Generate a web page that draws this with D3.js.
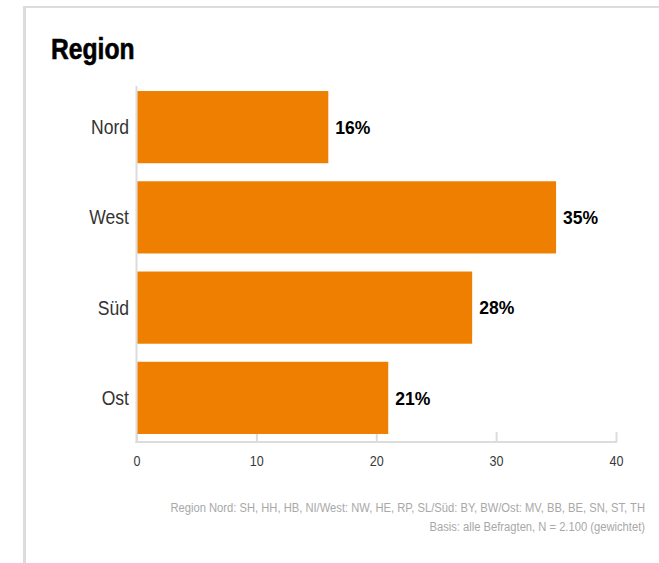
<!DOCTYPE html>
<html>
<head>
<meta charset="utf-8">
<script src="https://cdn.jsdelivr.net/npm/d3@7"></script>
<style>
  html, body { margin: 0; padding: 0; background: #fff; }
  svg { display: block; }
</style>
</head>
<body>
<svg id="chart" width="659" height="563"></svg>
<script>
// Regional distribution of respondents (share in percent)
const categories = ["Nord", "West", "Süd", "Ost"];
const shares = [16, 35, 28, 21];
const xTicks = [0, 10, 20, 30, 40];
const titleText = "Region";
const noteLines = [
  "Region Nord: SH, HH, HB, NI/West: NW, HE, RP, SL/Süd: BY, BW/Ost: MV, BB, BE, SN, ST, TH",
  "Basis: alle Befragten, N = 2.100 (gewichtet)"
];

const W = 659, H = 563;
const font = "'Liberation Sans', Arial, sans-serif";
const orange = "#ef7f00";
const rule = "#dcdcdc";

const svg = d3.select("#chart");

// Narrow text: position with a translate, then squeeze horizontally
function narrow(sel, sx, fx, fy) {
  sel.attr("transform", (d, i) => `translate(${fx(d, i)},${fy(d, i)}) scale(${sx},1)`);
}

// Card frame: top and left rules
svg.append("rect").attr("x", 23).attr("y", 6).attr("width", W - 23).attr("height", 2).attr("fill", rule);
svg.append("rect").attr("x", 23).attr("y", 6).attr("width", 3).attr("height", H - 6).attr("fill", rule);

// Title
svg.append("text")
  .datum(titleText)
  .attr("font-family", font)
  .attr("font-weight", "bold")
  .attr("font-size", 29)
  .attr("fill", "#000")
  .attr("stroke", "#000")
  .attr("stroke-width", 0.6)
  .text(d => d)
  .call(narrow, 0.85, () => 51, () => 59);

const x = d3.scaleLinear().domain([0, 40]).range([136.5, 616]);
const y = d3.scaleBand().domain(categories).range([82, 443]).paddingInner(0.2).paddingOuter(0.1);

// Bottom axis with upward ticks
const xAxis = svg.append("g")
  .attr("transform", "translate(0,442)")
  .call(d3.axisBottom(x).tickValues(xTicks).tickSize(-10).tickPadding(0).tickFormat(d3.format("d")));
xAxis.select(".domain").attr("stroke", rule).attr("stroke-width", 2).attr("d", `M${x(0) - 1},0H${x(40) + 1}`);
xAxis.selectAll(".tick line").attr("stroke", rule).attr("stroke-width", 2);
xAxis.selectAll(".tick text")
  .attr("y", 0)
  .attr("dy", 0)
  .attr("font-family", font)
  .attr("font-size", 15)
  .attr("fill", "#3a3a3a")
  .attr("transform", "translate(0,24) scale(0.84,1)");

// Left baseline
svg.append("line")
  .attr("x1", x(0)).attr("x2", x(0))
  .attr("y1", 86).attr("y2", 443)
  .attr("stroke", rule).attr("stroke-width", 2);

// Bars
const data = categories.map((c, i) => ({ c, v: shares[i] }));
svg.append("g").selectAll("rect")
  .data(data).join("rect")
  .attr("x", x(0) + 1)
  .attr("y", d => y(d.c))
  .attr("width", d => x(d.v) - x(0) - 1)
  .attr("height", y.bandwidth())
  .attr("fill", orange);

// Category labels
svg.append("g").selectAll("text")
  .data(data).join("text")
  .attr("dy", "0.36em")
  .attr("text-anchor", "end")
  .attr("font-family", font)
  .attr("font-size", 19.5)
  .attr("fill", "#333")
  .text(d => d.c)
  .call(narrow, 0.9, () => 129, d => y(d.c) + y.bandwidth() / 2);

// Value labels
svg.append("g").selectAll("text")
  .data(data).join("text")
  .attr("dy", "0.36em")
  .attr("font-family", font)
  .attr("font-weight", "bold")
  .attr("font-size", 18.5)
  .attr("fill", "#000")
  .text(d => d.v + "%")
  .call(narrow, 0.95, d => x(d.v) + 7, d => y(d.c) + y.bandwidth() / 2);

// Footnotes
svg.append("g").selectAll("text")
  .data(noteLines).join("text")
  .attr("text-anchor", "end")
  .attr("font-family", font)
  .attr("font-size", 13.5)
  .attr("fill", "#a8a8a8")
  .text(d => d)
  .call(narrow, 0.83, () => 645, (d, i) => 512 + i * 19);
</script>
</body>
</html>
